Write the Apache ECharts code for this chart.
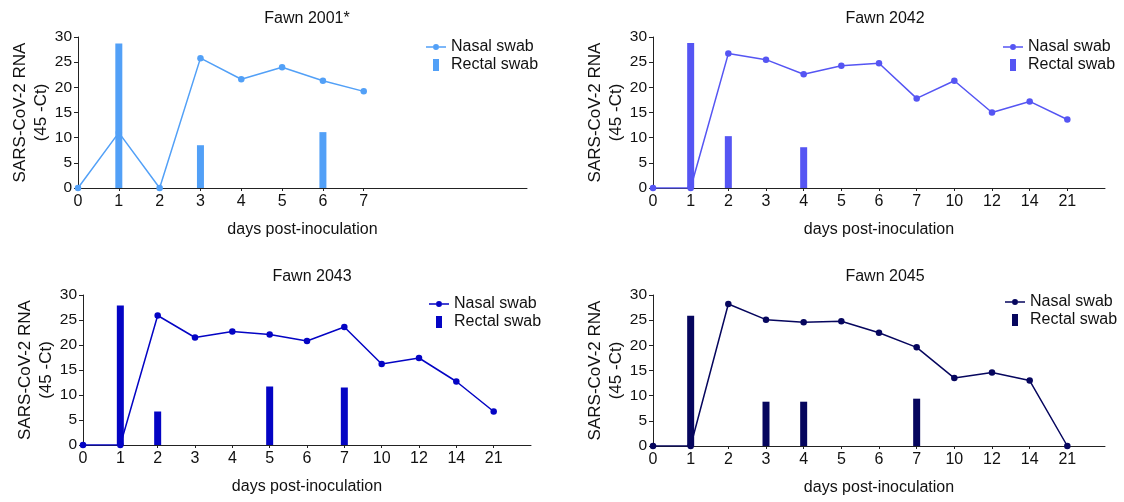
<!DOCTYPE html>
<html>
<head>
<meta charset="utf-8">
<script src="https://cdn.jsdelivr.net/npm/echarts@6/dist/echarts.min.js"></script>
<style>
  body { margin: 0; background: #fff; }
  .panel { position: absolute; width: 562px; height: 251px; }
</style>
</head>
<body>
<div id="c1" class="panel" style="left:0;top:0"></div>
<div id="c2" class="panel" style="left:562px;top:0"></div>
<div id="c3" class="panel" style="left:0;top:251px"></div>
<div id="c4" class="panel" style="left:562px;top:251px"></div>
<script>
// days post-inoculation (category labels)
var days2001 = ['0', '1', '2', '3', '4', '5', '6', '7'];
var daysLong = ['0', '1', '2', '3', '4', '5', '6', '7', '10', '12', '14', '21'];

// Fawn 2001*
var nasal2001 = [0, 11, 0, 25.8, 21.6, 24.0, 21.3, 19.2];
var rectal2001 = [null, 28.7, null, 8.5, null, null, 11.1, null];
// Fawn 2042
var nasal2042 = [0, 0, 26.7, 25.5, 22.6, 24.3, 24.8, 17.8, 21.3, 15.0, 17.2, 13.6];
var rectal2042 = [null, 28.8, 10.3, null, 8.1, null, null, null, null, null, null, null];
// Fawn 2043
var nasal2043 = [0, 0, 25.9, 21.5, 22.7, 22.1, 20.8, 23.6, 16.2, 17.4, 12.7, 6.7];
var rectal2043 = [null, 27.9, 6.7, null, null, 11.7, null, 11.5, null, null, null, null];
// Fawn 2045
var nasal2045 = [0, 0, 28.2, 25.1, 24.6, 24.8, 22.5, 19.6, 13.5, 14.6, 13.0, 0];
var rectal2045 = [null, 25.9, null, 8.8, 8.8, null, null, 9.4, null, null, null, null];

var yTicks = [0, 5, 10, 15, 20, 25, 30];

var font = "'Liberation Sans', Arial, sans-serif";

// legend icons: thin line with a dot, narrow bar
var lineIcon = 'path://M0 5.3H7V6.7H0Z M13 5.3H20V6.7H13Z M7 6A3 3 0 1 0 13 6A3 3 0 1 0 7 6Z';
var barIcon = 'path://M0 0H6V12H0Z';

function pairs(values) {
  var out = [];
  values.forEach(function (v, i) {
    if (v !== null) out.push([i, v]);
  });
  return out;
}

function makeChart(id, cfg) {
  var chart = echarts.init(document.getElementById(id), null, { renderer: 'canvas' });
  var ticks = cfg.days.map(function (d, i) { return i; });
  var grid = Object.assign({ outerBoundsMode: 'none', containLabel: false }, cfg.grid);
  var option = {
    animation: false,
    title: {
      text: cfg.title,
      left: cfg.titleX,
      top: cfg.titleY,
      textAlign: 'center',
      textStyle: { fontFamily: font, fontSize: 16, fontWeight: 'normal', color: '#111' }
    },
    legend: {
      orient: 'vertical',
      left: cfg.legendX,
      top: cfg.legendY,
      itemWidth: 20,
      itemHeight: 12,
      itemGap: 2,
      textStyle: { fontFamily: font, fontSize: 16, color: '#111' },
      data: [
        { name: 'Nasal swab', icon: lineIcon },
        { name: 'Rectal swab', icon: barIcon }
      ]
    },
    grid: grid,
    xAxis: {
      type: 'value',
      min: 0,
      max: cfg.xMax,
      interval: 1,
      name: 'days post-inoculation',
      nameLocation: 'middle',
      nameGap: 34,
      nameMoveOverlap: false,
      nameTextStyle: { fontFamily: font, fontSize: 16, color: '#111' },
      axisLine: { lineStyle: { color: '#222', width: 1 } },
      axisTick: { show: true, length: 3, lineStyle: { color: '#222' }, customValues: ticks },
      axisLabel: {
        fontFamily: font, fontSize: 16, color: '#111', margin: 6,
        customValues: ticks,
        formatter: function (v) { return cfg.days[v] !== undefined ? cfg.days[v] : ''; }
      },
      splitLine: { show: false }
    },
    yAxis: {
      type: 'value',
      min: yTicks[0],
      max: yTicks[yTicks.length - 1],
      interval: 5,
      name: 'SARS-CoV-2 RNA\n(45 -Ct)',
      nameLocation: 'middle',
      nameRotate: 90,
      nameGap: 26,
      nameMoveOverlap: false,
      nameTextStyle: { fontFamily: font, fontSize: 17, color: '#111', lineHeight: 21, align: 'center' },
      axisLine: { show: true, lineStyle: { color: '#222', width: 1 } },
      axisTick: { show: true, length: 4, lineStyle: { color: '#222' } },
      axisLabel: { fontFamily: font, fontSize: 15.5, color: '#111', margin: 6 },
      splitLine: { show: false }
    },
    series: [
      {
        name: 'Rectal swab',
        type: 'bar',
        barWidth: 7,
        itemStyle: { color: cfg.color },
        data: pairs(cfg.rectal),
        z: 2
      },
      {
        name: 'Nasal swab',
        type: 'line',
        symbol: 'circle',
        symbolSize: 6.5,
        lineStyle: { color: cfg.color, width: 1.5 },
        itemStyle: { color: cfg.color },
        data: pairs(cfg.nasal),
        z: 3
      }
    ]
  };
  chart.setOption(option);
  return chart;
}

makeChart('c1', {
  title: 'Fawn 2001*', titleX: 302, titleY: 6,
  legendX: 421, legendY: 34,
  grid: { left: 78, right: 35, top: 37, bottom: 63 },
  xMax: 11, days: days2001, nasal: nasal2001, rectal: rectal2001, color: '#52a0f7'
});
makeChart('c2', {
  title: 'Fawn 2042', titleX: 318, titleY: 6,
  legendX: 436, legendY: 34,
  grid: { left: 91, right: 19, top: 37, bottom: 63 },
  xMax: 12, days: daysLong, nasal: nasal2042, rectal: rectal2042, color: '#5555f3'
});
makeChart('c3', {
  title: 'Fawn 2043', titleX: 307, titleY: 13,
  legendX: 424, legendY: 40,
  grid: { left: 83, right: 31, top: 44, bottom: 57 },
  xMax: 12, days: daysLong, nasal: nasal2043, rectal: rectal2043, color: '#0404c4'
});
makeChart('c4', {
  title: 'Fawn 2045', titleX: 318, titleY: 13,
  legendX: 438, legendY: 38,
  grid: { left: 91, right: 19, top: 44, bottom: 56 },
  xMax: 12, days: daysLong, nasal: nasal2045, rectal: rectal2045, color: '#06065e'
});
</script>
</body>
</html>
